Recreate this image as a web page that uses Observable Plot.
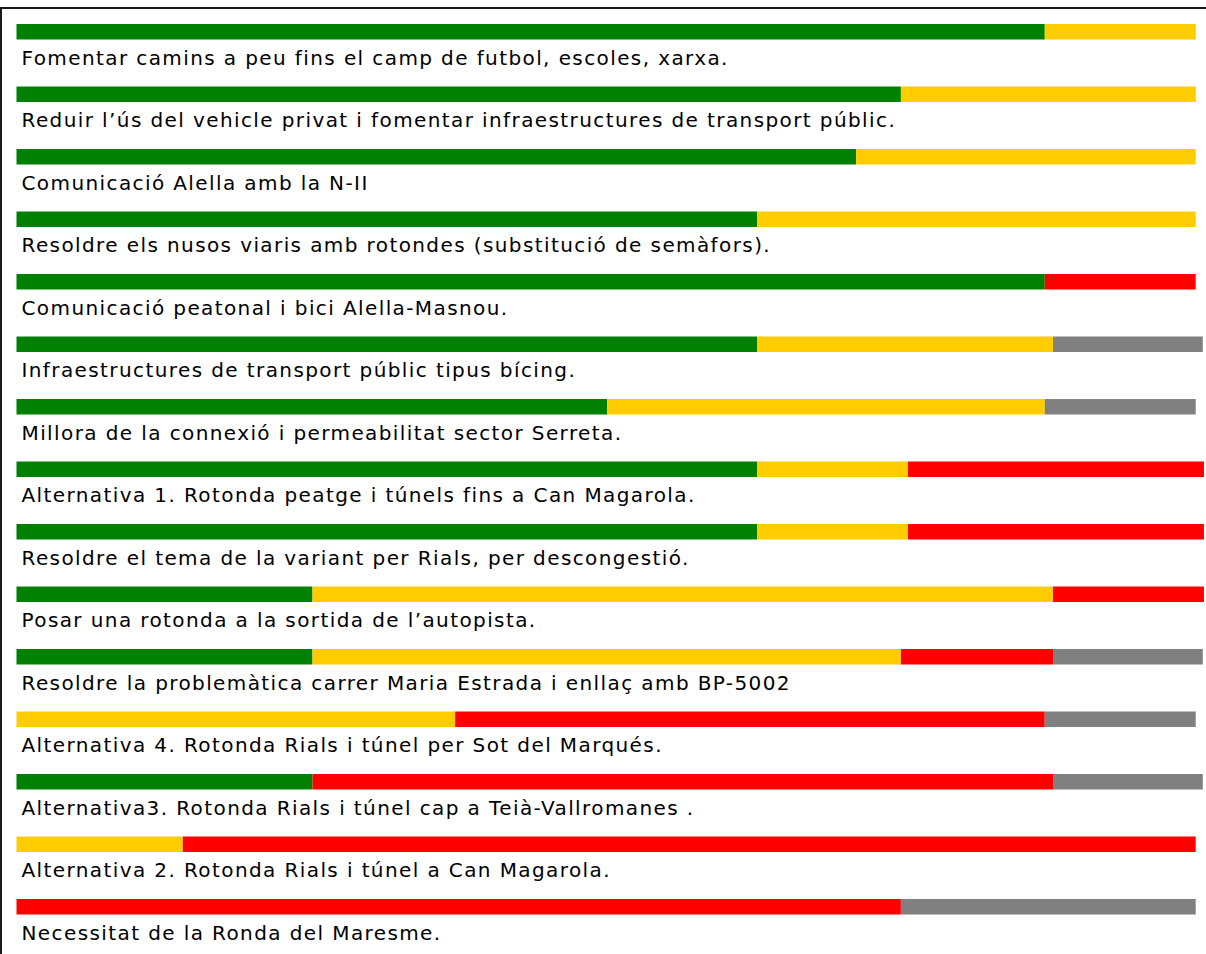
<!DOCTYPE html>
<html>
<head>
<meta charset="utf-8">
<script src="https://cdn.jsdelivr.net/npm/d3@7"></script>
<script src="https://cdn.jsdelivr.net/npm/@observablehq/plot@0.6"></script>
<style>
  html, body { margin: 0; padding: 0; background: #fff; overflow: hidden; }
  #wrap { position: relative; width: 1206px; height: 954px; }
  #frame { position: absolute; left: 0; top: 7px; width: 1206px; height: 960px;
           border-top: 2px solid #1a1a1a; border-left: 2px solid #1a1a1a; box-sizing: border-box; pointer-events: none; }
  #chart { position: absolute; left: 0; top: 0; }
  #chart text { letter-spacing: 1.4px; }
</style>
</head>
<body>
<div id="wrap"><div id="chart"></div><div id="frame"></div></div>
<script>
const labels = [
  "Fomentar camins a peu fins el camp de futbol, escoles, xarxa.",
  "Reduir l’ús del vehicle privat i fomentar infraestructures de transport públic.",
  "Comunicació Alella amb la N-II",
  "Resoldre els nusos viaris amb rotondes (substitució de semàfors).",
  "Comunicació peatonal i bici Alella-Masnou.",
  "Infraestructures de transport públic tipus bícing.",
  "Millora de la connexió i permeabilitat sector Serreta.",
  "Alternativa 1. Rotonda peatge i túnels fins a Can Magarola.",
  "Resoldre el tema de la variant per Rials, per descongestió.",
  "Posar una rotonda a la sortida de l’autopista.",
  "Resoldre la problemàtica carrer Maria Estrada i enllaç amb BP-5002",
  "Alternativa 4. Rotonda Rials i túnel per Sot del Marqués.",
  "Alternativa3. Rotonda Rials i túnel cap a Teià-Vallromanes .",
  "Alternativa 2. Rotonda Rials i túnel a Can Magarola.",
  "Necessitat de la Ronda del Maresme."
];
const seriesNames = ["verd", "groc", "vermell", "gris"];
const seriesColors = ["#008000", "#FFCC00", "#FF0000", "#808080"];
const green  = [87.2, 75.0, 71.2, 62.8, 87.2, 62.8, 50.1, 62.8, 62.8, 25.1, 25.1, 0,    25.1, 0,    0];
const yellow = [12.8, 25.0, 28.8, 37.2, 0,    25.1, 37.1, 12.8, 12.8, 62.8, 49.9, 37.2, 0,    14.1, 0];
const red    = [0,    0,    0,    0,    12.8, 0,    0,    25.1, 25.1, 12.8, 12.9, 50.0, 62.8, 85.9, 75.0];
const gray   = [0,    0,    0,    0,    0,    12.7, 12.8, 0,    0,    0,    12.7, 12.8, 12.7, 0,    25.0];

const seriesValues = [green, yellow, red, gray];
const table = [];
labels.forEach((label, i) => {
  seriesValues.forEach((vals, s) => {
    if (vals[i] > 0) table.push({label, series: seriesNames[s], value: vals[i]});
  });
});

const chart = Plot.plot({
  width: 1206,
  height: 954,
  marginLeft: 16.5,
  marginRight: 10.3,
  marginTop: 0,
  marginBottom: 0,
  style: {background: "transparent", fontFamily: "'DejaVu Sans', Verdana, sans-serif"},
  x: {domain: [0, 100], axis: null},
  y: {type: "band", domain: labels, range: [24, 961.5], padding: 0, round: false, axis: null},
  color: {domain: seriesNames, range: seriesColors},
  marks: [
    Plot.barX(table, Plot.stackX({x: "value", y: "label", fill: "series", insetTop: 0, insetBottom: 47})),
    Plot.text(labels, {x: () => 0, y: d => d, text: d => d, textAnchor: "start", dx: 4.5, dy: 2.5,
      fontSize: 20, fill: "#000"})
  ]
});
document.getElementById("chart").appendChild(chart);
</script>
</body>
</html>
